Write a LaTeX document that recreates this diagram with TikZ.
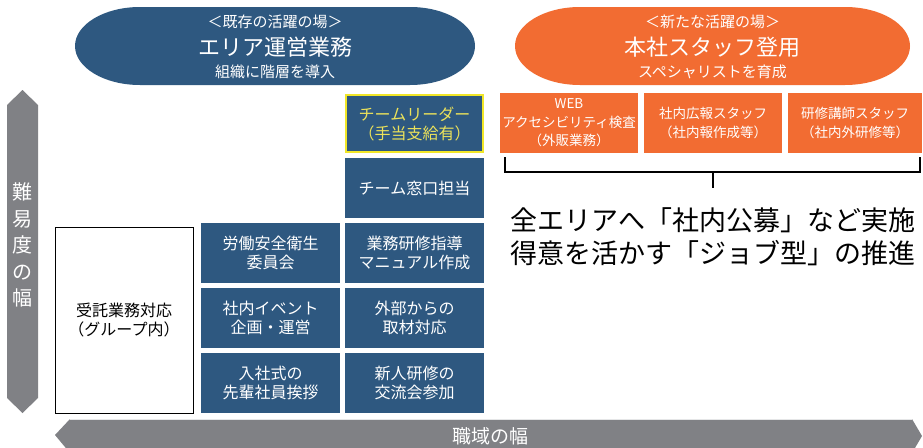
\documentclass[tikz,border=0pt]{standalone}
\usepackage{fontspec}
\setmainfont{Noto Sans CJK JP}
\newcommand\myfs[2]{\fontsize{#1}{#2}\selectfont}
\definecolor{cblue}{RGB}{46,88,128}
\definecolor{corange}{RGB}{242,108,50}
\definecolor{cgray}{RGB}{128,129,133}
\definecolor{cyellowline}{RGB}{240,230,40}
\definecolor{cyellowtext}{RGB}{236,226,90}
\tikzset{
  bluebox/.style={fill=cblue, text=white, minimum width=139pt, minimum height=60pt,
    inner sep=0pt, align=center, font=\myfs{16}{19}},
  orangebox/.style={fill=corange, text=white, minimum height=60pt,
    inner sep=0pt, align=center, font=\myfs{13.5}{18.5}},
  smalltitle/.style={text=white, inner sep=0pt, font=\myfs{15}{18}},
  bigtitle/.style={text=white, inner sep=0pt, font=\myfs{22}{26}},
  graybar/.style={fill=cgray, draw=none},
}
\begin{document}
\begin{tikzpicture}[x=1pt,y=-1pt]
\useasboundingbox (0,0) rectangle (923,447);
\clip (0,0) rectangle (923,447);
\fill[white] (0,0) rectangle (923,447);

% top stadiums
\fill[cblue] (140,7) -- (410,7) arc[start angle=90, end angle=-90, x radius=65, y radius=-39]
  -- (140,85) arc[start angle=270, end angle=90, x radius=65, y radius=-39] -- cycle;
\fill[corange] (580,7) -- (845,7) arc[start angle=90, end angle=-90, x radius=65, y radius=-39]
  -- (580,85) arc[start angle=270, end angle=90, x radius=65, y radius=-39] -- cycle;

\node[smalltitle] (l1) at (275,22) {＜既存の活躍の場＞};
\node[bigtitle]   (l2) at (275,47) {エリア運営業務};
\node[smalltitle] (l3) at (275,72) {組織に階層を導入};
\node[smalltitle] (r1) at (712.5,22) {＜新たな活躍の場＞};
\node[bigtitle]   (r2) at (712.5,47) {本社スタッフ登用};
\node[smalltitle] (r3) at (712.5,72) {スペシャリストを育成};

% vertical arrow
\fill[cgray] (7,105) -- (22.5,90) -- (38,105) -- (38,398) -- (22.5,413) -- (7,398) -- cycle;
\node[text=white, align=center, inner sep=0pt, font=\myfs{20}{26.5}] (vlabel) at (22.5,245)
  {難\\易\\度\\の\\幅};

% bottom arrow
\fill[cgray] (55,435) -- (70,419) -- (912,419) -- (922,436) -- (912,453) -- (70,453) -- cycle;
\draw[white!80!cgray, line width=0.8pt] (70,419.5) -- (912,419.5);
\node[text=white, inner sep=0pt, font=\myfs{19}{22}] (hlabel) at (490,436) {職域の幅};

% white box
\node[draw=black, line width=0.8pt, fill=white, minimum width=138pt, minimum height=186pt,
  inner sep=0pt, align=center, font=\myfs{16}{19}] (itaku) at (124,320)
  {受託業務対応\\（グループ内）};

% blue boxes
\node[bluebox, fill=cblue, draw=cyellowline, line width=2pt, text=cyellowtext,
  minimum width=137pt, minimum height=57pt] (leader) at (414.5,123.5)
  {チームリーダー\\（手当支給有）};
\node[bluebox] (madoguchi) at (414.5,188) {チーム窓口担当};
\node[bluebox] (anzen)  at (270.5,253) {労働安全衛生\\委員会};
\node[bluebox] (event)  at (270.5,318) {社内イベント\\企画・運営};
\node[bluebox] (nyusha) at (270.5,383) {入社式の\\先輩社員挨拶};
\node[bluebox] (kenshu) at (414.5,253) {業務研修指導\\マニュアル作成};
\node[bluebox] (shuzai) at (414.5,318) {外部からの\\取材対応};
\node[bluebox] (shinjin) at (414.5,383) {新人研修の\\交流会参加};

% orange boxes
\node[orangebox, minimum width=138pt] (web) at (569,123) {WEB\\アクセシビリティ検査\\（外販業務）};
\node[orangebox, minimum width=138pt] (koho) at (713,123) {社内広報スタッフ\\（社内報作成等）};
\node[orangebox, minimum width=134pt] (koshi) at (855,123) {研修講師スタッフ\\（社内外研修等）};

% bracket
\draw[black, line width=2.5pt] (505,157) -- (505,172) -- (920,172) -- (920,157);
\draw[black, line width=2.5pt] (713,172) -- (713,188);

% big text
\node[align=center, inner sep=0pt, font=\myfs{27}{33}] (slogan) at (712.5,236.5)
  {全エリアへ「社内公募」など実施\\得意を活かす「ジョブ型」の推進};
\end{tikzpicture}
\end{document}
